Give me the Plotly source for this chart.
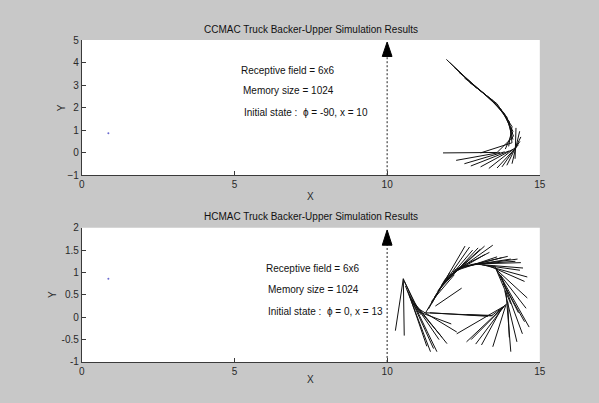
import plotly.graph_objects as go

# ---------------- data ----------------
# Top plot (CCMAC): truck segments (x0, y0) -> (x1, y1)
top_x0 = [11.94, 12.05, 12.20, 12.35, 12.53, 12.70, 12.88, 13.06, 13.20, 13.33, 13.47, 13.60, 13.72, 13.84,
          13.92, 14.00, 14.09, 14.12, 14.14, 14.09,
          14.22, 14.34, 14.38, 14.35, 14.30, 14.22, 14.12, 14.00, 13.85, 13.70, 13.60]
top_y0 = [4.14, 4.00, 3.78, 3.57, 3.32, 3.12, 2.93, 2.74, 2.60, 2.45, 2.31, 2.17, 1.95, 1.75,
          1.59, 1.38, 1.16, 0.95, 0.73, 0.44,
          1.10, 0.95, 0.70, 0.50, 0.35, 0.25, 0.15, 0.08, 0.04, 0.01, 0.01]
top_x1 = [12.80, 12.93, 13.06, 13.20, 13.33, 13.47, 13.60, 13.72, 13.84, 13.92, 14.00, 14.09, 14.12, 14.14,
          14.12, 14.09, 13.98, 13.87, 13.60, 13.06,
          14.19, 14.09, 13.92, 13.76, 13.60, 13.33, 13.06, 12.74, 12.53, 12.26, 11.83]
top_y1 = [3.02, 2.88, 2.74, 2.60, 2.45, 2.31, 2.17, 1.95, 1.75, 1.59, 1.38, 1.16, 0.95, 0.73,
          0.58, 0.44, 0.28, 0.16, 0.01, -0.01,
          -0.27, -0.49, -0.56, -0.63, -0.68, -0.70, -0.63, -0.59, -0.49, -0.34, -0.01]

# Bottom plot (HCMAC): truck segments
bot_x0 = [10.53, 10.53, 10.53, 10.56, 10.60, 10.66, 10.72, 10.80, 10.88, 10.95, 11.04, 11.10, 10.75,
          11.26, 11.35, 11.45, 11.55, 11.65, 11.78, 11.90, 12.01, 12.15, 11.58, 11.45, 11.70, 11.85, 12.20,
          12.30, 12.44, 12.60, 12.75, 12.87, 13.00, 13.15, 13.30, 12.50, 13.10,
          13.52, 13.60, 13.66, 13.73, 13.80, 13.89, 13.95, 13.56, 13.70, 13.85,
          13.84, 13.84, 13.80, 13.75, 13.90, 13.87, 13.41,
          11.26, 11.40, 12.60]
bot_y0 = [0.86, 0.86, 0.86, 0.80, 0.70, 0.60, 0.50, 0.40, 0.30, 0.22, 0.12, 0.10, 0.45,
          0.10, 0.18, 0.30, 0.45, 0.58, 0.72, 0.85, 0.93, 1.02, 0.25, 0.35, 0.62, 0.78, 1.05,
          1.08, 1.12, 1.15, 1.18, 1.19, 1.18, 1.17, 1.16, 1.14, 1.17,
          1.15, 1.05, 0.98, 0.93, 0.75, 0.57, 0.35, 1.10, 0.95, 0.60,
          0.25, 0.25, 0.22, 0.20, 0.30, 0.28, 0.03,
          0.10, 0.10, 0.06]
bot_x1 = [10.27, 10.56, 11.04, 11.10, 11.42, 11.63, 11.52, 11.96, 11.80, 12.28, 12.10, 11.70, 11.30,
          11.90, 12.05, 12.55, 12.70, 12.98, 13.19, 13.46, 13.20, 13.60, 12.44, 12.20, 12.80, 13.05, 13.35,
          13.75, 13.95, 14.27, 14.20, 14.38, 14.45, 14.59, 14.50, 14.05, 14.35,
          14.05, 14.59, 14.65, 14.43, 14.50, 14.05, 14.00, 14.30, 14.55, 14.25,
          12.28, 12.60, 12.75, 13.09, 13.46, 12.90, 13.84,
          13.41, 13.30, 13.45]
bot_y1 = [-0.30, -0.41, 0.10, 0.06, -0.77, -0.77, -0.70, -0.59, -0.45, -0.33, -0.15, -0.50, -0.65,
          0.85, 1.00, 1.59, 1.57, 1.55, 1.59, 1.61, 1.40, 1.35, 0.65, 0.95, 1.50, 1.52, 1.45,
          1.33, 1.36, 1.30, 1.25, 1.22, 1.10, 0.90, 0.80, 1.30, 1.05,
          0.30, 0.43, -0.22, -0.37, -0.10, -0.77, -0.45, 0.10, 0.20, -0.55,
          -0.37, -0.55, -0.50, -0.62, -0.66, -0.60, 0.25,
          0.03, 0.02, 0.04]

# Small dot present in both plots
dot_x = [0.87]
dot_y = [0.86]

# Target arrow (dock at x = 10)
arrow_x = 10
top_arrow_tip, top_arrow_base = 4.91, 4.27
bot_arrow_tip, bot_arrow_base = 1.95, 1.61
arrow_half_w = 0.16

titles = ["CCMAC Truck Backer-Upper Simulation Results",
          "HCMAC Truck Backer-Upper Simulation Results"]
top_texts = ["Receptive field = 6x6", "Memory size = 1024", "Initial state :  \u03d5 = -90, x = 10"]
top_text_x = [5.16, 5.23, 5.26]
top_text_y = [3.66, 2.76, 1.77]
bot_texts = ["Receptive field = 6x6", "Memory size = 1024", "Initial state :  \u03d5 = 0, x = 13"]
bot_text_x = [5.97, 6.03, 6.03]
bot_text_y = [1.09, 0.61, 0.13]

x_ticks = [0, 5, 10, 15]
top_y_ticks = [-1, 0, 1, 2, 3, 4, 5]
bot_y_ticks = [-1, -0.5, 0, 0.5, 1, 1.5, 2]
bot_y_ticktext = ["-1", "-0.5", "0", "0.5", "1", "1.5", "2"]

# ---------------- figure ----------------
FONT = "Liberation Sans, Arial, sans-serif"
W, H = 599, 403
fig = go.Figure()


def seg_xy(x0, y0, x1, y1):
    xs, ys = [], []
    for a, b, c, d in zip(x0, y0, x1, y1):
        xs += [a, c, None]
        ys += [b, d, None]
    return xs, ys


for (x0, y0, x1, y1, xa, ya, tip, base) in [
    (top_x0, top_y0, top_x1, top_y1, "x", "y", top_arrow_tip, top_arrow_base),
    (bot_x0, bot_y0, bot_x1, bot_y1, "x2", "y2", bot_arrow_tip, bot_arrow_base),
]:
    ymin = -1
    fig.add_trace(go.Scatter(x=[arrow_x, arrow_x], y=[ymin, base], mode="lines",
                             line=dict(color="#202020", width=1, dash="2px,2px"),
                             xaxis=xa, yaxis=ya, hoverinfo="skip", showlegend=False))
    fig.add_trace(go.Scatter(x=[arrow_x - arrow_half_w, arrow_x + arrow_half_w, arrow_x, arrow_x - arrow_half_w],
                             y=[base, base, tip, base], mode="lines", fill="toself",
                             fillcolor="black", line=dict(color="black", width=1),
                             xaxis=xa, yaxis=ya, hoverinfo="skip", showlegend=False))
    xs, ys = seg_xy(x0, y0, x1, y1)
    fig.add_trace(go.Scatter(x=xs, y=ys, mode="lines",
                             line=dict(color="#111111", width=1),
                             xaxis=xa, yaxis=ya, hoverinfo="skip", showlegend=False))
    fig.add_trace(go.Scatter(x=dot_x, y=dot_y, mode="markers",
                             marker=dict(color="#6a6ad0", size=2),
                             xaxis=xa, yaxis=ya, hoverinfo="skip", showlegend=False))

x_dom = [80 / W, 545 / W]
top_dom = [(H - 175) / H, (H - 36) / H]
bot_dom = [(H - 367) / H, (H - 229) / H]

axis_common = dict(showgrid=False, zeroline=False, showline=True, linecolor="#3a3a3a",
                   linewidth=1, ticks="inside", ticklen=4, tickcolor="#3a3a3a",
                   tickfont=dict(family=FONT, size=10, color="#2a2a2a"), mirror=False)

fig.update_layout(
    width=W, height=H,
    margin=dict(l=0, r=0, t=0, b=0),
    paper_bgcolor="#c8c8c8",
    plot_bgcolor="white",
    showlegend=False,
    xaxis=dict(domain=x_dom, range=[0, 15], tickvals=x_ticks, anchor="y", **axis_common),
    yaxis=dict(domain=top_dom, range=[-1, 5], tickvals=top_y_ticks, anchor="x", **axis_common),
    xaxis2=dict(domain=x_dom, range=[0, 15], tickvals=x_ticks, anchor="y2", **axis_common),
    yaxis2=dict(domain=bot_dom, range=[-1, 2], tickvals=bot_y_ticks, ticktext=bot_y_ticktext,
                anchor="x2", **axis_common),
)

ann = []
xmid = (x_dom[0] + x_dom[1]) / 2
for t, ypix in zip(titles, [25, 217]):
    ann.append(dict(text=t, x=xmid, y=1 - ypix / H, xref="paper", yref="paper",
                    showarrow=False, font=dict(family=FONT, size=10, color="#111111"),
                    xanchor="center", yanchor="middle"))
for ypix in [197, 385]:
    ann.append(dict(text="X", x=xmid, y=1 - ypix / H, xref="paper", yref="paper",
                    showarrow=False, font=dict(family=FONT, size=10, color="#2a2a2a"),
                    xanchor="center", yanchor="middle"))
for xpix, ypix in [(59, 106), (51, 298)]:
    ann.append(dict(text="Y", x=xpix / W, y=1 - ypix / H, xref="paper", yref="paper",
                    showarrow=False, textangle=-90, font=dict(family=FONT, size=10, color="#2a2a2a"),
                    xanchor="center", yanchor="middle"))
for t, tx, ty in zip(top_texts, top_text_x, top_text_y):
    ann.append(dict(text=t, x=tx, y=ty, xref="x", yref="y", showarrow=False,
                    font=dict(family=FONT, size=10, color="#111111"), xanchor="left", yanchor="middle"))
for t, tx, ty in zip(bot_texts, bot_text_x, bot_text_y):
    ann.append(dict(text=t, x=tx, y=ty, xref="x2", yref="y2", showarrow=False,
                    font=dict(family=FONT, size=10, color="#111111"), xanchor="left", yanchor="middle"))
fig.update_layout(annotations=ann)

fig.write_html("out.html")
